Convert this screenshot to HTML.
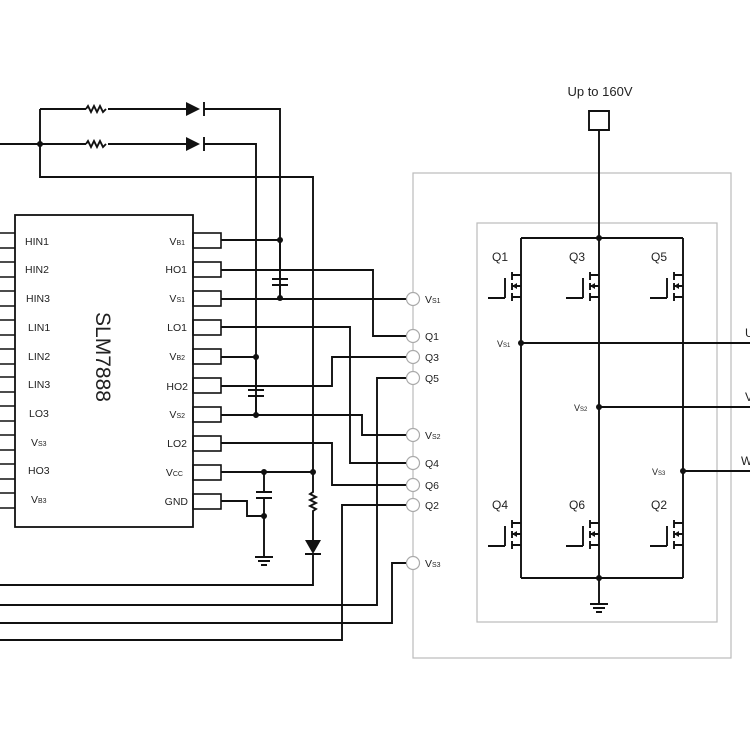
<!DOCTYPE html>
<html><head><meta charset="utf-8"><style>
html,body{margin:0;padding:0;background:#fff}
svg{display:block}
text{font-family:"Liberation Sans",sans-serif;fill:#222}
</style></head><body>
<svg width="750" height="736" viewBox="0 0 750 736" xmlns="http://www.w3.org/2000/svg">
<defs>
<g id="mos" fill="none" stroke="#111" stroke-width="1.9">
<path d="M0,0 H-9 M-9,-3 V5 M-9,8 V15 M-9,18 V26 M-9,22 H0 M-9,11 H0 M-16,3 V23 M-33,23 H-16"/>
<path d="M-9,11 L-4,8 L-4,14 Z" fill="#111" stroke="none"/>
</g>
</defs>
<rect x="413" y="173" width="318" height="485" fill="none" stroke="#bbb" stroke-width="1.2"/>
<rect x="477" y="223" width="240" height="399" fill="none" stroke="#bbb" stroke-width="1.2"/>

<rect x="15" y="215" width="178" height="312" fill="#fff" stroke="#111" stroke-width="1.8"/>
<g stroke="#111" stroke-width="1.6" fill="none">
<path d="M0,233H15M0,248H15 M0,262H15M0,277H15 M0,291H15M0,306H15 M0,320H15M0,335H15 M0,349H15M0,364H15 M0,377H15M0,392H15 M0,406H15M0,421H15 M0,435H15M0,450H15 M0,464H15M0,479H15 M0,493H15M0,508H15"/>
<rect x="193" y="233" width="28" height="15"/><rect x="193" y="262" width="28" height="15"/>
<rect x="193" y="291" width="28" height="15"/><rect x="193" y="320" width="28" height="15"/>
<rect x="193" y="349" width="28" height="15"/><rect x="193" y="378" width="28" height="15"/>
<rect x="193" y="407" width="28" height="15"/><rect x="193" y="436" width="28" height="15"/>
<rect x="193" y="465" width="28" height="15"/><rect x="193" y="494" width="28" height="15"/>
</g>
<g font-size="10.5">
<text x="25" y="245">HIN1</text><text x="25" y="273">HIN2</text><text x="26" y="302">HIN3</text>
<text x="28" y="331">LIN1</text><text x="28" y="360">LIN2</text><text x="28" y="388">LIN3</text>
<text x="29" y="417">LO3</text><text x="31" y="446">V<tspan font-size="7">S3</tspan></text>
<text x="28" y="474">HO3</text><text x="31" y="503">V<tspan font-size="7">B3</tspan></text>
<g text-anchor="end">
<text x="185" y="245">V<tspan font-size="7">B1</tspan></text><text x="187" y="273">HO1</text>
<text x="185" y="302">V<tspan font-size="7">S1</tspan></text><text x="187" y="331">LO1</text>
<text x="185" y="360">V<tspan font-size="7">B2</tspan></text><text x="188" y="390">HO2</text>
<text x="185" y="418">V<tspan font-size="7">S2</tspan></text><text x="187" y="447">LO2</text>
<text x="183" y="476">V<tspan font-size="7">CC</tspan></text><text x="188" y="505">GND</text>
</g></g>
<text x="0" y="0" font-size="21" transform="translate(96,357) rotate(90)" text-anchor="middle">SLM7888</text>

<g stroke="#111" stroke-width="1.9" fill="none">
<path d="M40,109 H86 M108,109 H186 M204,109 H280 V298"/>
<path d="M0,144 H86 M108,144 H186 M204,144 H256 V415"/>
<path d="M40,109 V177 H313 V472"/>
<path d="M86,109 l2,-3 l3,6 l3,-6 l3,6 l3,-6 l3,6 l3,-3 M86,144 l2,-3 l3,6 l3,-6 l3,6 l3,-6 l3,6 l3,-3"/>
<path d="M204,102 V116 M204,137 V151"/>
<path d="M221,240 H280"/>
<path d="M221,270 H373 V336 H406"/>
<path d="M221,299 H406"/>
<path d="M221,327 H350 V463 H406"/>
<path d="M221,357 H256"/>
<path d="M221,386 H332 V357 H406"/>
<path d="M221,415 H362 V435 H406"/>
<path d="M221,443 H332 V485 H406"/>
<path d="M221,472 H313"/>
<path d="M221,501 H247 V516 H264"/>
<path d="M280,240 V279 M272,279 H288 M272,285 H288 M280,285 V298"/>
<path d="M256,357 V390 M248,390 H264 M248,396 H264 M256,396 V415"/>
<path d="M264,472 V492 M256,492 H272 M256,498 H272 M264,498 V557"/>
<path d="M255,557 H273 M258,561 H270 M261,565 H267"/>
<path d="M313,472 V492 l-3,2 l6,3 l-6,3 l6,3 l-6,3 l6,3 l-3,2 V540 M305,554 H321 M313,554 V585 H0"/>
<path d="M406,378 H377 V605 H0"/>
<path d="M406,505 H342 V640 H0"/>
<path d="M406,563 H392 V623 H0"/>
<path d="M589,111 H609 V130 H589 Z"/>
<path d="M599,130 V238 M521,238 H683 M521,238 V578 M599,238 V578 M683,238 V578 M521,578 H683 M599,578 V604"/>
<path d="M590,604 H608 M593,608 H605 M596,612 H602"/>
<path d="M521,343 H750 M599,407 H750 M683,471 H750"/>
</g>
<g fill="#111">
<path d="M186,102 L200,109 L186,116 Z M186,137 L200,144 L186,151 Z M305,540 L321,540 L313,554 Z"/>
<circle cx="40" cy="144" r="3"/><circle cx="280" cy="240" r="3"/><circle cx="280" cy="298" r="3"/>
<circle cx="256" cy="357" r="3"/><circle cx="256" cy="415" r="3"/><circle cx="264" cy="472" r="3"/>
<circle cx="264" cy="516" r="3"/><circle cx="313" cy="472" r="3"/>
<circle cx="599" cy="238" r="3"/><circle cx="599" cy="578" r="3"/>
<circle cx="521" cy="343" r="3"/><circle cx="599" cy="407" r="3"/><circle cx="683" cy="471" r="3"/>
</g>
<use href="#mos" x="521" y="275"/><use href="#mos" x="599" y="275"/><use href="#mos" x="683" y="275"/>
<use href="#mos" x="521" y="523"/><use href="#mos" x="599" y="523"/><use href="#mos" x="683" y="523"/>
<g fill="#fff" stroke="#aaa" stroke-width="1.2">
<circle cx="413" cy="299" r="6.5"/><circle cx="413" cy="336" r="6.5"/><circle cx="413" cy="357" r="6.5"/>
<circle cx="413" cy="378" r="6.5"/><circle cx="413" cy="435" r="6.5"/><circle cx="413" cy="463" r="6.5"/>
<circle cx="413" cy="485" r="6.5"/><circle cx="413" cy="505" r="6.5"/><circle cx="413" cy="563" r="6.5"/>
</g>
<g font-size="10.5">
<text x="425" y="303">V<tspan font-size="7">S1</tspan></text><text x="425" y="340">Q1</text>
<text x="425" y="361">Q3</text><text x="425" y="382">Q5</text>
<text x="425" y="439">V<tspan font-size="7">S2</tspan></text><text x="425" y="467">Q4</text>
<text x="425" y="489">Q6</text><text x="425" y="509">Q2</text>
<text x="425" y="567">V<tspan font-size="7">S3</tspan></text>
</g>
<g font-size="12">
<text x="492" y="261">Q1</text><text x="569" y="261">Q3</text><text x="651" y="261">Q5</text>
<text x="492" y="509">Q4</text><text x="569" y="509">Q6</text><text x="651" y="509">Q2</text>
<text x="600" y="96" font-size="13" text-anchor="middle">Up to 160V</text>
<text x="745" y="337">U</text><text x="745" y="401">V</text><text x="741" y="465">W</text>
</g>
<g font-size="9">
<text x="497" y="347">V<tspan font-size="6">S1</tspan></text>
<text x="574" y="411">V<tspan font-size="6">S2</tspan></text>
<text x="652" y="475">V<tspan font-size="6">S3</tspan></text>
</g>
</svg>
</body></html>
